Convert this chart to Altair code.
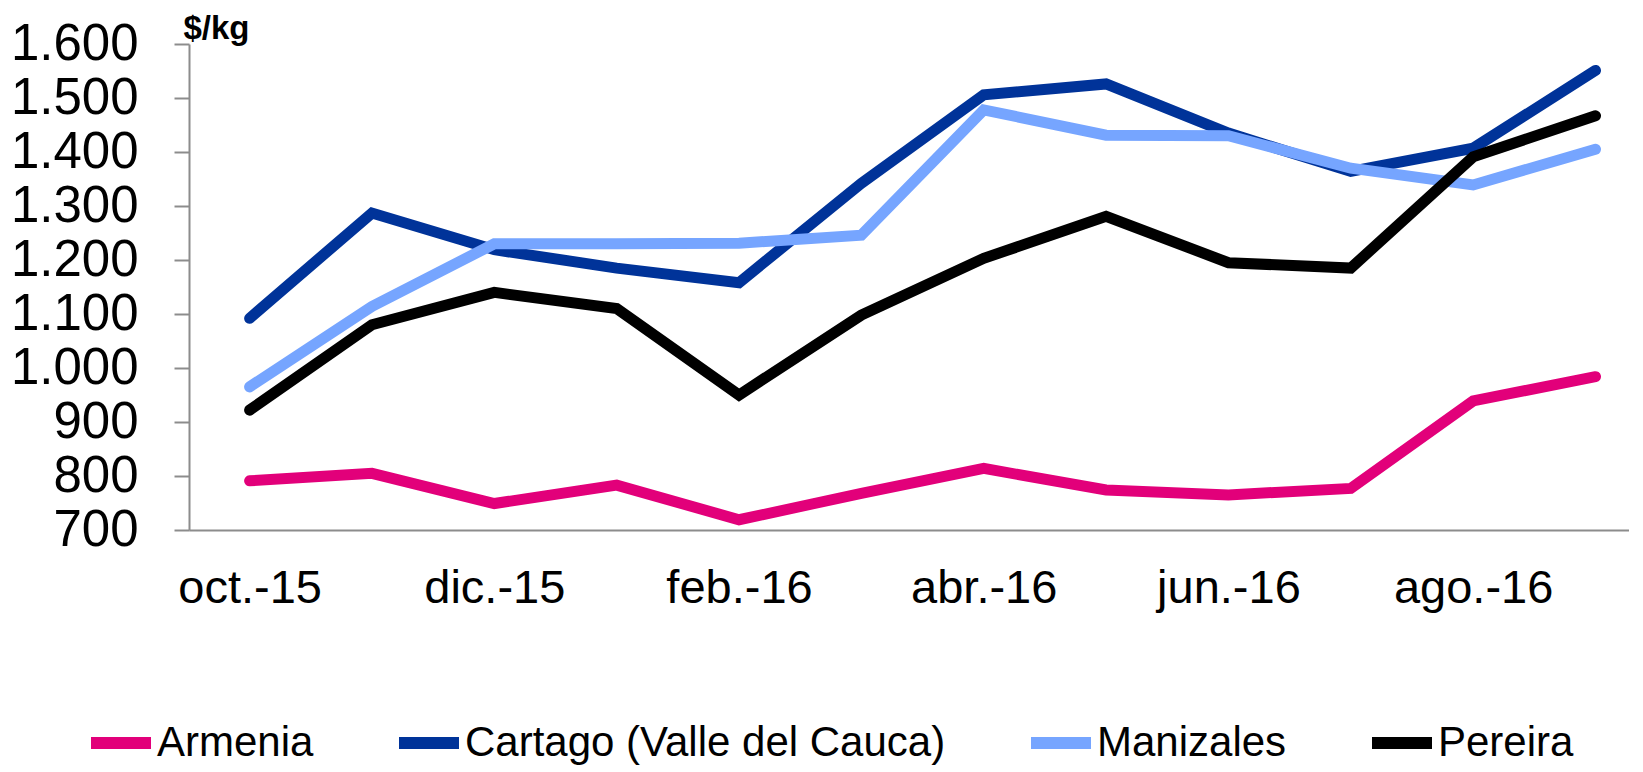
import altair as alt
import pandas as pd

months = ["oct.-15", "nov.-15", "dic.-15", "ene.-16", "feb.-16", "mar.-16",
          "abr.-16", "may.-16", "jun.-16", "jul.-16", "ago.-16", "sep.-16"]
shown_months = ["oct.-15", "dic.-15", "feb.-16", "abr.-16", "jun.-16", "ago.-16"]

armenia = [791, 805, 749, 783, 719, 768, 814, 774, 765, 777, 939, 984]
cartago = [1092, 1287, 1219, 1185, 1158, 1342, 1506, 1526, 1435, 1364, 1407, 1551]
manizales = [965, 1114, 1230, 1230, 1231, 1246, 1478, 1431, 1430, 1370, 1339, 1405]
pereira = [922, 1080, 1140, 1110, 950, 1098, 1203, 1281, 1195, 1185, 1391, 1467]

series_names = ["Armenia", "Cartago (Valle del Cauca)", "Manizales", "Pereira"]
series_colors = ["#E2007A", "#003399", "#76A5FF", "#000000"]
y_ticks = [700, 800, 900, 1000, 1100, 1200, 1300, 1400, 1500, 1600]

rows = []
for name, vals in zip(series_names, [armenia, cartago, manizales, pereira]):
    for i, (m, v) in enumerate(zip(months, vals)):
        rows.append({"mes": m, "orden": i, "serie": name, "valor": v})
df = pd.DataFrame(rows)

FONT = "Liberation Sans"
AXIS_GRAY = "#8C8C8C"

chart = alt.Chart(df).mark_line(strokeWidth=11, strokeCap="round", strokeJoin="miter").encode(
    x=alt.X("mes:N", sort=months,
            scale=alt.Scale(type="point", padding=0.3846, align=0.644),
            axis=alt.Axis(values=shown_months, title=None, labelAngle=0, tickSize=0,
                          labelFont=FONT, labelFontSize=47, labelColor="#000000",
                          labelPadding=35, domainColor=AXIS_GRAY, domainWidth=2,
                          grid=False)),
    y=alt.Y("valor:Q",
            scale=alt.Scale(domain=[700, 1600], nice=False, zero=False),
            axis=alt.Axis(values=y_ticks, title="$/kg", titleAngle=0, titleAlign="left",
                          titleBaseline="alphabetic", titleX=-6, titleY=-6,
                          titleFont=FONT, titleFontSize=33, titleFontWeight="bold",
                          titleColor="#000000",
                          labelExpr="replace(format(datum.value, ',d'), ',', '.')",
                          labelFont=FONT, labelFontSize=51, labelColor="#000000",
                          labelPadding=36, tickSize=15, tickColor=AXIS_GRAY, tickWidth=2,
                          domainColor=AXIS_GRAY, domainWidth=2, grid=False)),
    color=alt.Color("serie:N", sort=series_names,
                    scale=alt.Scale(domain=series_names, range=series_colors),
                    legend=alt.Legend(orient="none", legendX=-104, legendY=663,
                                      direction="horizontal", columns=4, title=None,
                                      symbolType="stroke", symbolSize=3600,
                                      symbolStrokeWidth=12, labelFont=FONT,
                                      labelFontSize=42, labelColor="#000000",
                                      labelLimit=1000, labelOffset=0, columnPadding=61,
                                      padding=0)),
    order=alt.Order("orden:Q"),
).properties(
    width=1440,
    height=486,
    autosize=alt.AutoSizeParams(type="none"),
    padding={"left": 181, "top": 36, "right": 0, "bottom": 238},
).configure_view(stroke=None)

chart.save("out.html", embed_options={"renderer": "svg", "actions": False})
